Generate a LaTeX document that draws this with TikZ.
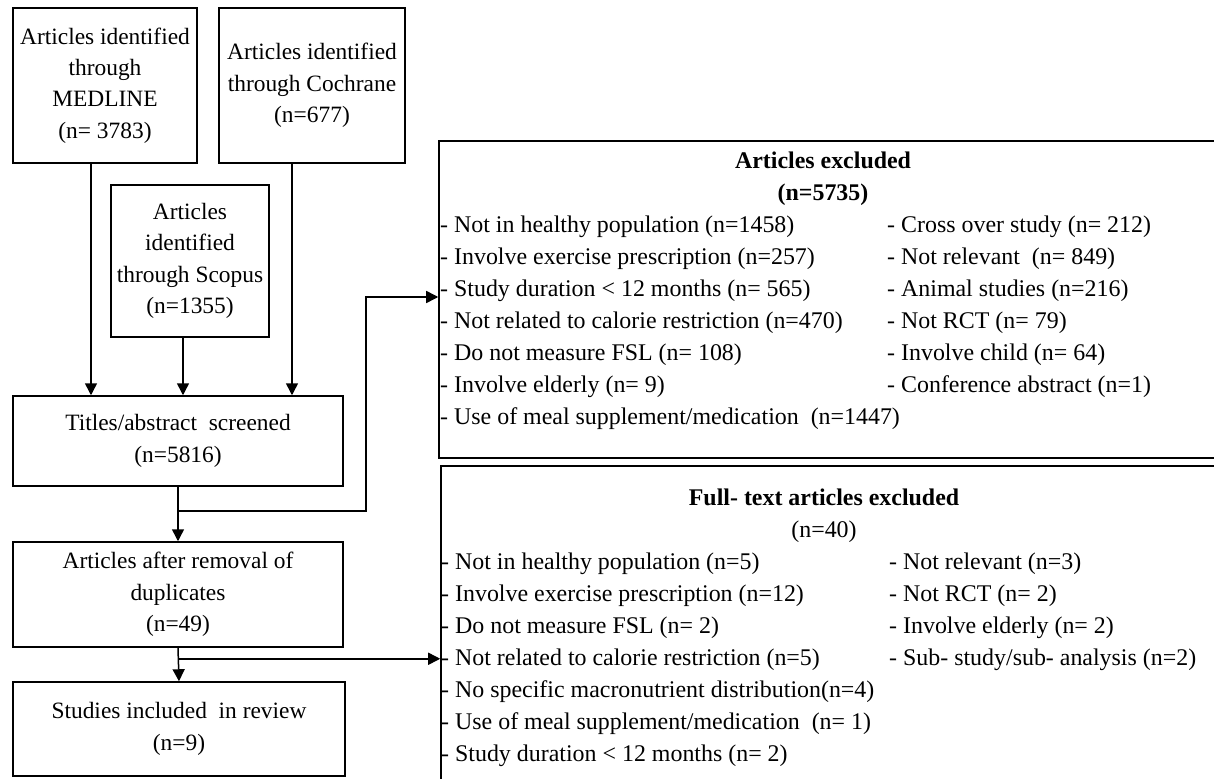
\documentclass[tikz,border=0pt]{standalone}
\usepackage{fontspec}
\setmainfont{Liberation Serif}
\usetikzlibrary{arrows.meta,calc}
\begin{document}
\begin{tikzpicture}[x=1bp,y=-1bp,
  box/.style={draw,line width=1.5bp,inner sep=0pt,align=center,font=\fontsize{23.5}{31.5}\selectfont},
  arr/.style={line width=1.5bp,-{Triangle[length=12bp,width=12bp]}},
  ln/.style={line width=1.5bp},
  item/.style={anchor=base west,inner sep=0pt,font=\fontsize{24}{32}\selectfont},
  ttl/.style={anchor=base,inner sep=0pt,font=\fontsize{24}{32}\selectfont}]
\useasboundingbox (0,0) rectangle (1214,779);
\clip (0,0) rectangle (1214,779);
% left column boxes
\node[box,minimum width=184bp,minimum height=155bp] (med) at (105,85.5) {Articles identified\\through\\MEDLINE\\(n= 3783)};
\node[box,minimum width=186bp,minimum height=155bp] (coc) at (312,85.5) {Articles identified\\through Cochrane\\(n=677)};
\node[box,minimum width=158bp,minimum height=152bp] (sco) at (190,261) {Articles\\identified\\through Scopus\\(n=1355)};
\node[box,minimum width=330bp,minimum height=90bp] (tit) at (178,441) {Titles/abstract\ \ screened\\(n=5816)};
\node[box,minimum width=330bp,minimum height=105bp] (dup) at (178,594.5) {Articles after removal of\\duplicates\\(n=49)};
\node[box,minimum width=332bp,minimum height=94bp] (inc) at (179,729) {Studies included\ \ in review\\(n=9)};
% right boxes
\node[draw,line width=1.5bp,inner sep=0pt,minimum width=801bp,minimum height=317bp] (exc) at (839.5,299.5) {};
\node[draw,line width=1.5bp,inner sep=0pt,minimum width=799bp,minimum height=334bp] (ft) at (840.5,633) {};
% arrows into screening
\coordinate (m1) at ($(med.south)+(-14,0)$);
\coordinate (s1) at ($(sco.south)+(-7,0)$);
\coordinate (c1) at ($(coc.south)+(-20,0)$);
\draw[arr] (m1) -- (m1 |- tit.north);
\draw[arr] (s1) -- (s1 |- tit.north);
\draw[arr] (c1) -- (c1 |- tit.north);
% screening -> duplicates, branch to excluded
\draw[arr] (tit.south) -- (dup.north);
\coordinate (b1) at ($(tit.south)+(0,24)$);
\coordinate (k1) at (366,297);
\draw[arr] (b1) -| (k1) -- (k1 -| exc.west);
% duplicates -> included, branch to full-text excluded
\draw[arr] (dup.south) -- (inc.north);
\coordinate (b2) at ($(dup.south)+(0,11)$);
\draw[arr] (b2) -- (b2 -| ft.west);
% excluded texts
\node[ttl] (exh1) at (823,168) {\textbf{Articles excluded}};
\node[ttl] (exh2) at (823,200) {\textbf{(n=5735)}};
\foreach \t [count=\i] in {Not in healthy population (n=1458),Involve exercise prescription (n=257),Study duration < 12 months (n= 565),Not related to calorie restriction (n=470),Do not measure FSL (n= 108),Involve elderly (n= 9),Use of meal supplement/medication\ \ (n=1447)}
  \node[item,name=exl\i] at (440,{232+32*(\i-1)}) {- \t};
\foreach \t [count=\i] in {Cross over study (n= 212),Not relevant\ \ (n= 849),Animal studies (n=216),Not RCT (n= 79),Involve child (n= 64),Conference abstract (n=1)}
  \node[item,name=exr\i] at (887,{232+32*(\i-1)}) {- \t};
% full-text excluded texts
\node[ttl] (fth1) at (824,505) {\textbf{Full- text articles excluded}};
\node[ttl] (fth2) at (824,537) {(n=40)};
\foreach \t [count=\i] in {Not in healthy population (n=5),Involve exercise prescription (n=12),Do not measure FSL (n= 2),Not related to calorie restriction (n=5),No specific macronutrient distribution(n=4),Use of meal supplement/medication\ \ (n= 1),Study duration < 12 months (n= 2)}
  \node[item,name=ftl\i] at (441,{569+32*(\i-1)}) {- \t};
\foreach \t [count=\i] in {Not relevant (n=3),Not RCT (n= 2),Involve elderly (n= 2),Sub- study/sub- analysis (n=2)}
  \node[item,name=ftr\i] at (889,{569+32*(\i-1)}) {- \t};
\end{tikzpicture}
\end{document}
